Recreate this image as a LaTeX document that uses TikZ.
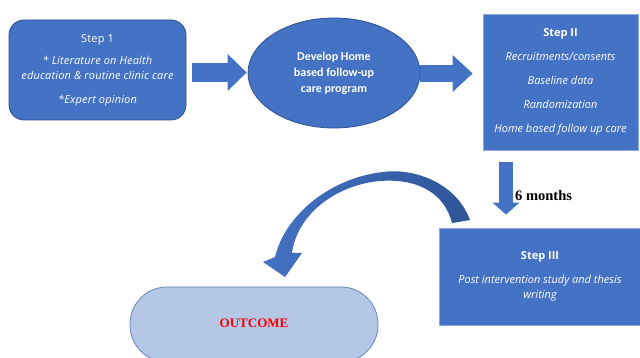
\documentclass[tikz,border=0pt]{standalone}
\usepackage{fontspec}
\setmainfont{Open Sans}
\newfontfamily\tnrfont{Liberation Serif}
\newfontfamily\calfont{Carlito}
\newfontfamily\widefont[LetterSpace=1.5]{Open Sans}
\usetikzlibrary{arrows.meta,shapes.geometric,calc}
\definecolor{mblue}{HTML}{4472C4}
\definecolor{dblue}{HTML}{2F528F}
\definecolor{lblue}{HTML}{B4C7E7}
\definecolor{pblue}{HTML}{8EA9DB}
\definecolor{cblue}{HTML}{2F5597}
\tikzset{
  stepbox/.style={draw=#1, line width=0.8pt, fill=mblue, text=white, align=center, inner sep=0pt},
  blockarrow/.style={draw=mblue, line width=#1},
}
\begin{document}
\begin{tikzpicture}[x=1pt,y=-1pt, font=\fontsize{11}{15}\selectfont]
\useasboundingbox (0,0) rectangle (640,358);
\fill[white] (0,0) rectangle (640,358);
% Step 1
\node[stepbox=dblue, rounded corners=15pt, minimum width=177pt, minimum height=100pt,
  font=\widefont\fontsize{11}{15}\selectfont] (s1) at (97.5,70)
  {\raisebox{-1pt}{Step 1}\\[8pt]\itshape * Literature on Health\\\itshape education \& routine clinic care\\[9pt]\itshape *Expert opinion};
% Ellipse
\node[stepbox=dblue, ellipse, minimum width=172pt, minimum height=110pt, font=\calfont\fontsize{12}{16}\selectfont\bfseries] (dev) at (334,73)
  {Develop Home\\based follow-up\\care program};
% Step II
\node[stepbox=pblue, minimum width=155pt, minimum height=136pt] (s2) at (560.5,82)
  {\textbf{Step II}\\[9pt]\itshape Recruitments/consents\\[9pt]\itshape Baseline data\\[9pt]\itshape Randomization\\[9pt]\itshape Home based follow up care};
% Step III
\node[stepbox=pblue, minimum width=202pt, minimum height=97pt] (s3) at (540,276.5)
  {\textbf{Step III}\\[9pt]\itshape Post intervention study and thesis\\\itshape writing};
% Outcome
\node[draw=pblue!60!dblue, line width=0.8pt, fill=lblue, rounded corners=37pt, minimum width=248pt, minimum height=75pt,
  font=\tnrfont\fontsize{13}{15}\selectfont\bfseries, text=red] (out) at (254,324.5) {\raisebox{3pt}{OUTCOME}};
% block arrows
\draw[blockarrow=19pt, -{Triangle[width=37pt,length=19pt,line width=0pt]}, shorten <=6pt, shorten >=1pt]
  ($(s1.east)+(0,2.5)$) -- ($(dev.west)+(0,-0.5)$);
\draw[blockarrow=17pt, -{Triangle[width=37pt,length=20pt,line width=0pt]}, shorten <=0pt, shorten >=10pt]
  ($(dev.east)+(0,0.5)$) -- ($(s2.west)+(0,-8.5)$);
\coordinate (d1) at ($(s2.south)+(-54.5,0)$);
\coordinate (d2) at ($(s3.north)+(-34,0)$);
\draw[blockarrow=14pt, -{Triangle[width=27pt,length=12pt,line width=0pt]}, shorten <=12pt, shorten >=13pt]
  (d1) -- (d2);
\node[font=\tnrfont\fontsize{14.5}{16}\selectfont\bfseries, anchor=west, inner sep=0pt] (six) at (515,196) {6 months};
% curved arrow
\shade[left color=mblue, right color=cblue, shading angle=90]
  (470,220) .. controls (455,180) and (410,168) .. (383,172)
  .. controls (330,178) and (285,215) .. (275,257)
  -- (263,262) -- (285,277) -- (302,253) -- (292,253)
  .. controls (297,215) and (335,185) .. (380,181)
  .. controls (420,178) and (445,195) .. (452,223) -- cycle;
\end{tikzpicture}
\end{document}
